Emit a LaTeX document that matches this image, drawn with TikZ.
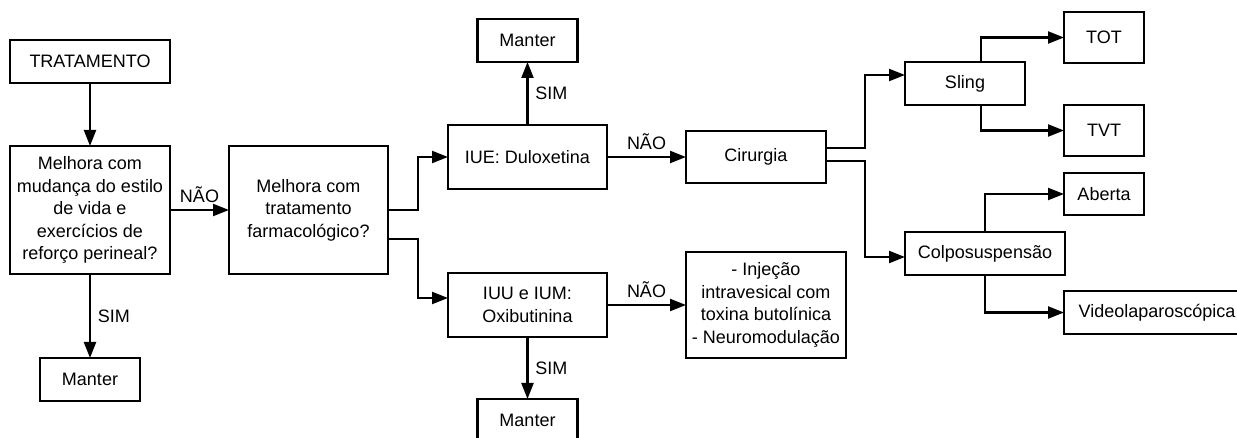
\documentclass[tikz,border=0pt]{standalone}
\usepackage{fontspec}
\setmainfont{Liberation Sans}
\usetikzlibrary{positioning,arrows.meta,calc}

\tikzset{
	box/.style={draw, line width=1.1pt, outer sep=0pt, align=center, inner sep=2pt, font=\fontsize{9}{11.3}\selectfont},
	lbl/.style={font=\fontsize{9}{11.3}\selectfont},
	link/.style={line width=1.1pt, -{Triangle[length=8pt,width=6pt]}}
}

\begin{document}
\begin{tikzpicture}
	\useasboundingbox (-45pt,-114pt) rectangle (573.5pt,105pt);

	\node[box, minimum width=80pt, minimum height=64pt] (melhora1) {Melhora com\\mudança do estilo\\de vida e\\exercícios de\\reforço perineal?};
	\node[box, minimum width=80pt, minimum height=21.5pt, above=31.5pt of melhora1] (tratamento) {TRATAMENTO};
	\node[box, minimum width=50pt, minimum height=21.5pt, below=42pt of melhora1] (manter1) {Manter};
	\node[box, minimum width=79.5pt, minimum height=64pt, right=29.5pt of melhora1] (melhora2) {Melhora com\\tratamento\\farmacológico?};

	\node[box, minimum width=79.5pt, minimum height=32pt, right=30pt of melhora2, yshift=26.5pt] (iue) {IUE: Duloxetina};
	\node[box, minimum width=79.5pt, minimum height=32pt, right=30pt of melhora2, yshift=-47.5pt] (iuu) {IUU e IUM:\\Oxibutinina};
	\node[box, minimum width=50pt, minimum height=21.5pt, above=31.5pt of iue] (manter2) {Manter};
	\node[box, minimum width=50pt, minimum height=21.5pt, below=31pt of iuu] (manter3) {Manter};

	\node[box, minimum width=70pt, minimum height=26pt, right=39.5pt of iue] (cirurgia) {Cirurgia};
	\node[box, minimum width=80pt, minimum height=53pt, right=39.5pt of iuu] (injecao) {- Injeção\\intravesical com\\toxina butolínica\\- Neuromodulação};

	\node[box, minimum width=60pt, minimum height=21.5pt, right=39.5pt of cirurgia, yshift=36.75pt] (sling) {Sling};
	\node[box, minimum width=80pt, minimum height=21.5pt, right=39.5pt of cirurgia, yshift=-48.25pt] (colpo) {Colposuspensão};
	\node[box, minimum width=40pt, minimum height=25.5pt, right=19.5pt of sling, yshift=23pt] (tot) {TOT};
	\node[box, minimum width=40pt, minimum height=25.5pt, right=19.5pt of sling, yshift=-23.5pt] (tvt) {TVT};
	\node[box, minimum width=40pt, minimum height=21pt, below=8.5pt of tvt] (aberta) {Aberta};
	\node[box, minimum width=93pt, minimum height=21.5pt, below=38pt of aberta.south west, anchor=north west] (video) {Videolaparoscópica};

	\draw[link] (tratamento) -- (melhora1);
	\draw[link] (melhora1) -- node[lbl, above] {NÃO} (melhora2);
	\draw[link] (melhora1) -- node[lbl, right] {SIM} (manter1);

	\draw[link] (melhora2.east) -- ++(15pt,0) |- (iue.west);
	\draw[link] ($(melhora2.east)+(0,-14.5pt)$) -- ++(15pt,0) |- ($(iuu.west)+(0,3.5pt)$);

	\draw[link] (iue) -- node[lbl, right] {SIM} (manter2);
	\draw[link] (iue) -- node[lbl, above] {NÃO} (cirurgia);
	\draw[link] (iuu) -- node[lbl, above] {NÃO} (injecao);
	\draw[link] (iuu) -- node[lbl, right] {SIM} (manter3);

	\draw[link] ($(cirurgia.east)+(0,4.5pt)$) -- ++(19.5pt,0) |- ($(sling.west)+(0,4.25pt)$);
	\draw[link] ($(cirurgia.east)+(0,-2pt)$) -- ++(19.5pt,0) |- ($(colpo.west)+(0,-1.75pt)$);
	\draw[link] ($(sling.north)+(8pt,0)$) |- (tot);
	\draw[link] ($(sling.south)+(8pt,0)$) |- (tvt);
	\draw[link] (colpo.north) |- (aberta);
	\draw[link] (colpo.south) |- (video);
\end{tikzpicture}
\end{document}
